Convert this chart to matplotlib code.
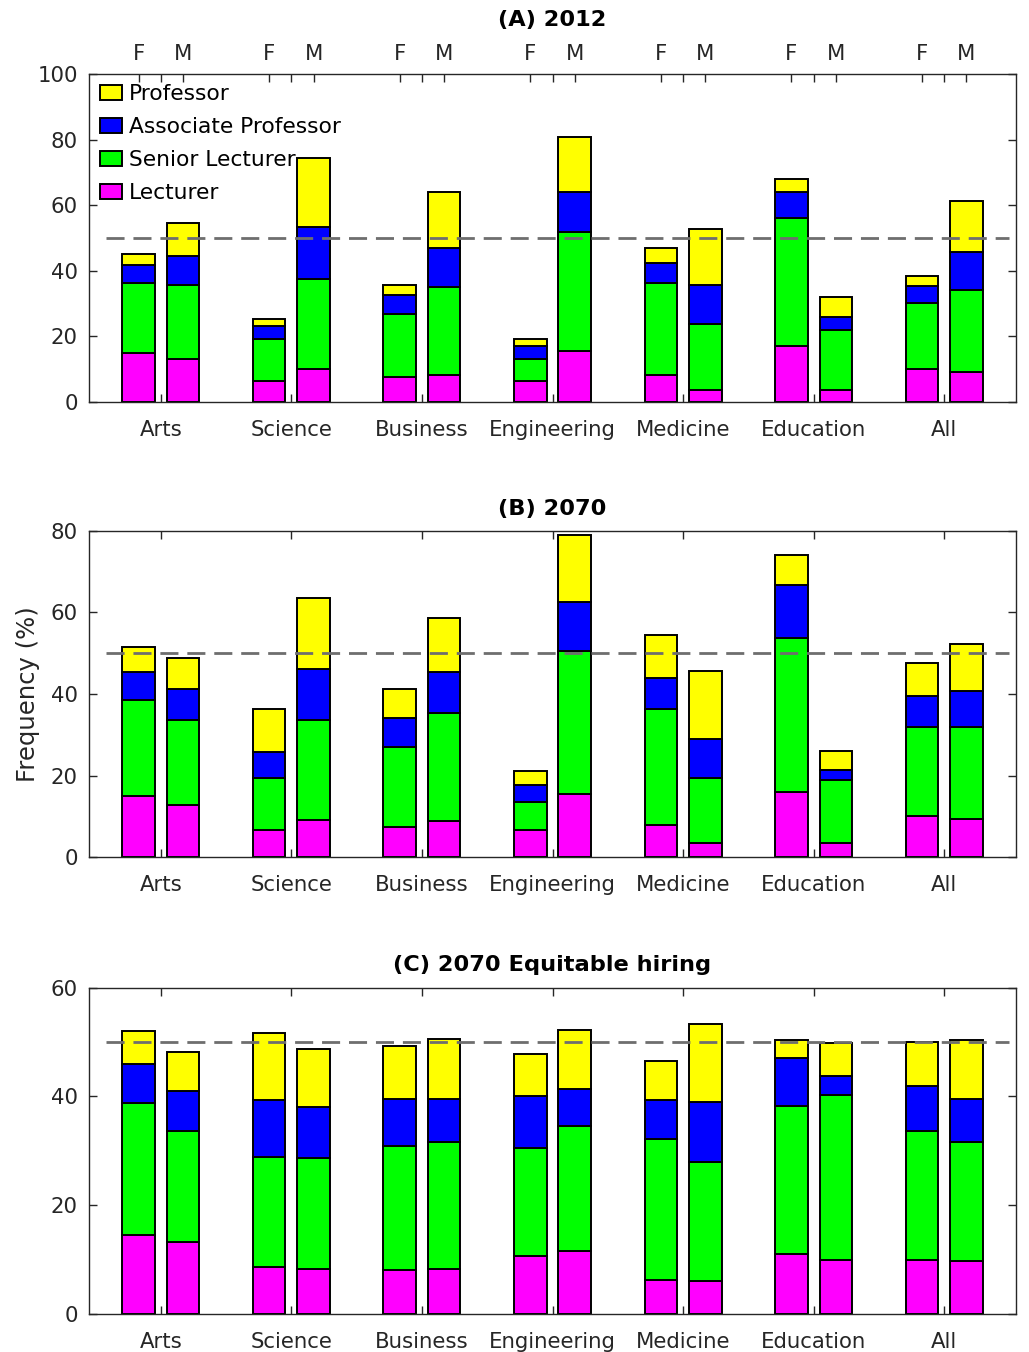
import matplotlib
matplotlib.use("Agg")
import matplotlib.pyplot as plt
import numpy as np

categories = ["Arts", "Science", "Business", "Engineering", "Medicine", "Education", "All"]
ranks = ["Lecturer", "Senior Lecturer", "Associate Professor", "Professor"]
rank_colors = ["#FF00FF", "#00FF00", "#0000FF", "#FFFF00"]

# (A) 2012 -- stack segment heights (%)
a_F_lect = [14.8, 6.5, 7.6, 6.5, 8.1, 17.1, 10.0]
a_F_snr = [21.5, 12.7, 19.3, 6.6, 28.2, 39.0, 20.3]
a_F_assoc = [5.6, 3.9, 5.6, 3.9, 6.2, 7.9, 5.1]
a_F_prof = [3.2, 2.2, 3.3, 2.2, 4.4, 3.9, 3.1]
a_M_lect = [13.2, 10.0, 8.1, 15.4, 3.8, 3.8, 9.2]
a_M_snr = [22.6, 27.4, 27.1, 36.3, 19.9, 18.2, 24.9]
a_M_assoc = [8.8, 16.0, 11.7, 12.2, 12.1, 3.9, 11.6]
a_M_prof = [10.0, 21.1, 17.0, 16.8, 17.0, 6.1, 15.5]

# (B) 2070
b_F_lect = [15.0, 6.7, 7.5, 6.6, 7.9, 16.0, 10.1]
b_F_snr = [23.5, 12.7, 19.5, 7.0, 28.4, 37.6, 21.8]
b_F_assoc = [6.8, 6.3, 7.1, 4.2, 7.6, 13.0, 7.6]
b_F_prof = [6.2, 10.6, 7.1, 3.4, 10.6, 7.4, 8.0]
b_M_lect = [12.8, 9.2, 8.9, 15.6, 3.5, 3.5, 9.3]
b_M_snr = [20.8, 24.4, 26.5, 34.9, 16.0, 15.5, 22.6]
b_M_assoc = [7.6, 12.5, 9.9, 12.0, 9.4, 2.3, 8.9]
b_M_prof = [7.5, 17.3, 13.3, 16.4, 16.7, 4.8, 11.5]

# (C) 2070 Equitable hiring
c_F_lect = [14.6, 8.6, 8.0, 10.7, 6.3, 11.0, 10.0]
c_F_snr = [24.2, 20.3, 22.9, 19.8, 25.9, 27.2, 23.6]
c_F_assoc = [7.1, 10.4, 8.7, 9.5, 7.1, 8.8, 8.4]
c_F_prof = [6.1, 12.3, 9.7, 7.9, 7.3, 3.3, 8.0]
c_M_lect = [13.2, 8.3, 8.3, 11.6, 6.0, 10.0, 9.7]
c_M_snr = [20.4, 20.3, 23.3, 23.0, 21.9, 30.3, 22.0]
c_M_assoc = [7.4, 9.4, 8.0, 6.7, 11.0, 3.4, 7.9]
c_M_prof = [7.2, 10.7, 11.0, 11.0, 14.4, 6.2, 10.7]

panels = [
    ("(A) 2012", [a_F_lect, a_F_snr, a_F_assoc, a_F_prof], [a_M_lect, a_M_snr, a_M_assoc, a_M_prof], 100),
    ("(B) 2070", [b_F_lect, b_F_snr, b_F_assoc, b_F_prof], [b_M_lect, b_M_snr, b_M_assoc, b_M_prof], 80),
    ("(C) 2070 Equitable hiring", [c_F_lect, c_F_snr, c_F_assoc, c_F_prof], [c_M_lect, c_M_snr, c_M_assoc, c_M_prof], 60),
]

plt.rcParams['font.family'] = ['DejaVu Sans']
FS = 15.3
TC = "#262626"

W, H = 1029, 1352
fig = plt.figure(figsize=(W / 100, H / 100), dpi=100)

ax_boxes = [(89, 74, 1016, 402), (89, 530.7, 1016, 857.3), (89, 987.7, 1016, 1314)]
title_y = [20, 509, 965]

x = np.arange(1, len(categories) + 1)
off = 0.17
bw = 0.25

for i, (title, fvals, mvals, ymax) in enumerate(panels):
    l, t, r, b = ax_boxes[i]
    ax = fig.add_axes([l / W, 1 - b / H, (r - l) / W, (b - t) / H])
    handles = []
    for pos, vals in ((x - off, fvals), (x + off, mvals)):
        bottom = np.zeros(len(categories))
        hs = []
        for k, seg in enumerate(vals):
            seg = np.array(seg)
            h = ax.bar(pos, seg, bw, bottom=bottom, color=rank_colors[k],
                       edgecolor="black", linewidth=1.4, zorder=2, label=ranks[k])
            hs.append(h)
            bottom = bottom + seg
        handles = hs
    ax.plot([0.58, 7.5], [50, 50], color="#6e6e6e", lw=2.0, dashes=(6.5, 3.2), zorder=3)
    ax.set_xlim(0.45, 7.55)
    ax.set_ylim(0, ymax)
    ax.set_yticks(np.arange(0, ymax + 1, 20))
    ax.set_xticks(x)
    ax.set_xticklabels(categories)
    ax.tick_params(axis="both", direction="in", length=6, width=1.0, colors=TC,
                   labelsize=FS, right=True, top=(i != 0))
    ax.tick_params(axis="x", pad=13)
    ax.tick_params(axis="y", pad=8)
    for s in ax.spines.values():
        s.set_color(TC)
        s.set_linewidth(1.0)
    if i == 0:
        ax2 = ax.twiny()
        ax2.set_xlim(ax.get_xlim())
        tpos = np.sort(np.concatenate([x - off, x, x + off]))
        tlab = []
        for c in range(len(categories)):
            tlab += ["F", "", "M"]
        ax2.set_xticks(tpos)
        ax2.set_xticklabels(tlab)
        ax2.tick_params(axis="x", direction="in", length=6, width=1.0, colors=TC,
                        labelsize=FS, pad=7)
        for s in ax2.spines.values():
            s.set_visible(False)
        leg = ax.legend(handles[::-1], ranks[::-1], loc="upper left",
                        bbox_to_anchor=(0.0119, 0.970), frameon=False, fontsize=15.7,
                        handlelength=1.02, handleheight=0.7, handletextpad=0.3,
                        labelspacing=0.6, borderpad=0, borderaxespad=0)
    if i == 1:
        ax.set_ylabel("Frequency (%)", fontsize=17.5, color=TC, labelpad=8)
    fig.text((l + r) / 2 / W, 1 - title_y[i] / H, title, ha="center", va="center",
             fontsize=16.2, fontweight="bold", color="black")

fig.savefig("out.png", dpi=100)
